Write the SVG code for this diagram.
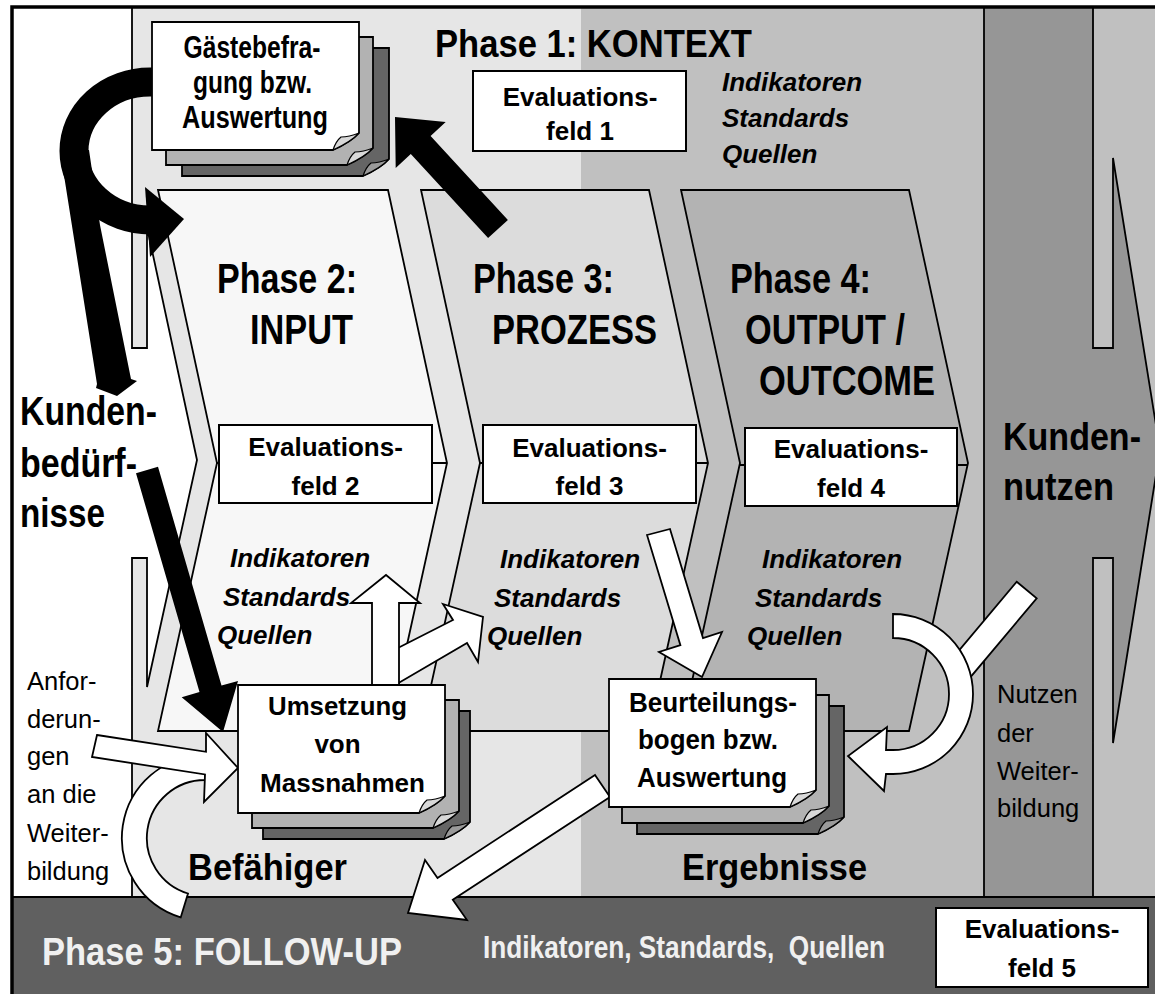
<svg xmlns="http://www.w3.org/2000/svg" width="1155" height="994" viewBox="0 0 1155 994">
<style>
.ln{fill:none;stroke:#000;stroke-width:1.8}
.chev{stroke:#000;stroke-width:1.8}
.box{fill:#fff;stroke:#000;stroke-width:2}
.warr{fill:#fff;stroke:#000;stroke-width:1.8;stroke-linejoin:miter}
.barr{fill:#000}
.big{font-family:"Liberation Sans Narrow","Liberation Sans",Arial,sans-serif;font-weight:bold;fill:#000}
.bt{font-family:"Liberation Sans",Arial,sans-serif;font-weight:bold;font-size:26px;text-anchor:middle;fill:#000}
.it{font-family:"Liberation Sans",Arial,sans-serif;font-weight:bold;font-style:italic;font-size:26px;fill:#000}
.rg{font-family:"Liberation Sans",Arial,sans-serif;font-size:25.5px;fill:#000}
.s1{fill:#fff;stroke:#000;stroke-width:1.8}
.s2{fill:#b2b2b2;stroke:#000;stroke-width:1.8}
.s3{fill:#656565;stroke:#000;stroke-width:1.8}
.flap{fill:#d8d8d8;stroke:#000;stroke-width:1.2}
.flap3{fill:#9a9a9a;stroke:#000;stroke-width:1.2}
</style>
<defs>
<path id="sheet" d="M0,0 H207 V111 Q199,120 181,128 H0 Z"/>
<path id="flap" d="M181,128 Q184,119 189,115 Q197,115 207,111 Q199,120 181,128 Z"/>
</defs>

<g id="background">
<rect x="0" y="0" width="1155" height="994" fill="#fff"/>
<rect x="132" y="7" width="449" height="890" fill="#e6e6e6"/>
<rect x="581" y="7" width="403" height="890" fill="#c0c0c0"/>
<rect x="1093" y="7" width="70" height="890" fill="#c0c0c0"/>
<rect x="984" y="7" width="109" height="890" fill="#969696"/>
</g>

<g id="kundennutzen-arrow">
<polygon points="1090,348 1113,348 1113,158 1160,450 1113,743 1113,558 1090,558" fill="#969696"/>
<path class="ln" d="M1093,7 V348 H1113 V158 L1160,450 L1113,743 V558 H1093 V897"/>
<path class="ln" d="M984,7 V897"/>
</g>

<g id="kundenbeduerfnisse-arrow">
<polygon points="12,348 147,348 147,227 197,460 147,687 147,558 12,558" fill="#fff"/>
<path class="ln" d="M132,7 V348 H147 V227 L197,460 L147,687 V558 H132 V897"/>
</g>

<g id="phase2">
<polygon class="chev" fill="#f7f7f7" points="158,190 388,190 447,463 388,731 158,731 217,463"/>
</g>
<g id="phase3">
<polygon class="chev" fill="#dcdcdc" points="421,190 649,190 708,463 649,731 421,731 480,463"/>
</g>
<g id="phase4">
<polygon class="chev" fill="#b3b3b3" points="681,190 909,190 968,463 909,731 681,731 740,463"/>
</g>

<g id="box-lines">
<path class="ln" d="M217,463 H219 M432,463 H447 M480,463 H483 M696,463 H708 M740,465 H745 M957,465 H968"/>
</g>

<g id="evalfeld1">
<rect class="box" x="473" y="71" width="213" height="80"/>
<text class="bt" x="580" y="106">Evaluations-</text>
<text class="bt" x="580" y="140">feld 1</text>
</g>
<g id="evalfeld2">
<rect class="box" x="219" y="425" width="213" height="78"/>
<text class="bt" x="325.5" y="456">Evaluations-</text>
<text class="bt" x="325.5" y="495">feld 2</text>
</g>
<g id="evalfeld3">
<rect class="box" x="483" y="425" width="213" height="78"/>
<text class="bt" x="589.5" y="457">Evaluations-</text>
<text class="bt" x="589.5" y="495">feld 3</text>
</g>
<g id="evalfeld4">
<rect class="box" x="745" y="428" width="212" height="78"/>
<text class="bt" x="851" y="458">Evaluations-</text>
<text class="bt" x="851" y="497">feld 4</text>
</g>

<g id="phase5">
<rect x="12" y="897" width="1150" height="100" fill="#606060"/>
<path class="ln" d="M12,897 H1155" stroke-width="2.2"/>
<text class="big" x="42" y="965" font-size="39.5" textLength="360" lengthAdjust="spacingAndGlyphs" style="fill:#f0f0f0">Phase 5: FOLLOW-UP</text>
<text class="big" x="483" y="958" font-size="32" textLength="402" lengthAdjust="spacingAndGlyphs" style="fill:#f0f0f0;white-space:pre">Indikatoren, Standards,  Quellen</text>
</g>
<g id="evalfeld5">
<rect class="box" x="936" y="908" width="212" height="79" stroke-width="2.6"/>
<text class="bt" x="1042" y="938">Evaluations-</text>
<text class="bt" x="1042" y="977">feld 5</text>
</g>

<g id="labels">
<text class="big" x="435" y="57" font-size="39.5" textLength="317" lengthAdjust="spacingAndGlyphs">Phase 1: KONTEXT</text>
<text class="big" x="217" y="293" font-size="42" textLength="140" lengthAdjust="spacingAndGlyphs">Phase 2:</text>
<text class="big" x="250" y="344" font-size="42" textLength="103" lengthAdjust="spacingAndGlyphs">INPUT</text>
<text class="big" x="473" y="293" font-size="42" textLength="141" lengthAdjust="spacingAndGlyphs">Phase 3:</text>
<text class="big" x="492" y="344" font-size="42" textLength="165" lengthAdjust="spacingAndGlyphs">PROZESS</text>
<text class="big" x="730" y="293" font-size="42" textLength="141" lengthAdjust="spacingAndGlyphs">Phase 4:</text>
<text class="big" x="745" y="344" font-size="42" textLength="160" lengthAdjust="spacingAndGlyphs">OUTPUT /</text>
<text class="big" x="759" y="395" font-size="42" textLength="176" lengthAdjust="spacingAndGlyphs">OUTCOME</text>

<text class="big" x="20" y="425" font-size="40" textLength="137" lengthAdjust="spacingAndGlyphs">Kunden-</text>
<text class="big" x="20" y="477" font-size="40" textLength="117" lengthAdjust="spacingAndGlyphs">bedürf-</text>
<text class="big" x="20" y="527" font-size="40" textLength="85" lengthAdjust="spacingAndGlyphs">nisse</text>

<text class="big" x="1003" y="450" font-size="38.5" textLength="138" lengthAdjust="spacingAndGlyphs">Kunden-</text>
<text class="big" x="1003" y="500" font-size="38.5" textLength="111" lengthAdjust="spacingAndGlyphs">nutzen</text>

<text class="big" x="188" y="880" font-size="36" textLength="159" lengthAdjust="spacingAndGlyphs">Befähiger</text>
<text class="big" x="682" y="880" font-size="37" textLength="185" lengthAdjust="spacingAndGlyphs">Ergebnisse</text>

<text class="it" x="722" y="91">Indikatoren</text>
<text class="it" x="722" y="127">Standards</text>
<text class="it" x="722" y="163">Quellen</text>

<text class="it" x="230" y="567">Indikatoren</text>
<text class="it" x="223" y="606">Standards</text>
<text class="it" x="217" y="644">Quellen</text>

<text class="it" x="500" y="568">Indikatoren</text>
<text class="it" x="494" y="607">Standards</text>
<text class="it" x="487" y="645">Quellen</text>

<text class="it" x="762" y="568">Indikatoren</text>
<text class="it" x="755" y="607">Standards</text>
<text class="it" x="747" y="645">Quellen</text>

<text class="rg" x="27" y="690">Anfor-</text>
<text class="rg" x="27" y="728">derun-</text>
<text class="rg" x="27" y="765">gen</text>
<text class="rg" x="27" y="803">an die</text>
<text class="rg" x="27" y="842">Weiter-</text>
<text class="rg" x="27" y="880">bildung</text>

<text class="rg" x="997" y="703">Nutzen</text>
<text class="rg" x="997" y="742">der</text>
<text class="rg" x="997" y="780">Weiter-</text>
<text class="rg" x="997" y="817">bildung</text>
</g>

<g id="connectors">
<path d="M162,82 H150 A76,69 0 0 0 74,151 A76,69 0 0 0 150,220" fill="none" stroke="#000" stroke-width="29"/>
<polygon class="barr" points="145,187 184,219 150,257"/>
<polygon class="barr" points="60,150 89,150 100,225 131,379 137,381 117,396 96,388 97,384"/>
<polygon class="barr" points="136,473.2 158,466.8 221.5,685.6 238,681 223,732 181.7,697.2 199.5,692"/>
<polygon class="barr" points="488.1,238.1 507.9,219.9 430.6,135.9 445.7,122 395,117 395.7,168 410.8,154.1"/>
<polygon class="warr" points="1016.7,581.7 1036.7,598.3 969.2,678.7 949.2,662.1"/>
<path class="warr" d="M893,614 A80,80 0 0 1 973,694 A80,80 0 0 1 893,774 L886,774 L884,791 L848,756 L887,727 L886,750 L893,750 A56,56 0 0 0 949,694 A56,56 0 0 0 893,638 Z"/>
<path class="warr" d="M180.7,917.4 A83,83 0 0 1 205,755 L205,780 A58,58 0 0 0 188,893.5 Z"/>
<polygon class="warr" points="97,735 206,751.8 206,733 238,768 204,802 205,774.4 92,757"/>
<polygon class="warr" points="390,652 453,620 443,604 483,617 478,662 467,643 390,688"/>
<polygon class="warr" points="372,700 372,603 351,603 386,575 420,603 399,603 399,700"/>
<polygon class="warr" points="647,535 670,529 703,638 722,632 702,677 659,652 680.4,645.2"/>
<polygon class="warr" points="595,775 437.5,877.9 425,860 408,913 467,920 452.8,899.7 610,797"/>
</g>

<g id="doc-gaestebefragung">
<use href="#sheet" x="182" y="48" class="s3"/><use href="#flap" x="182" y="48" class="flap3"/>
<use href="#sheet" x="166" y="37" class="s2"/><use href="#flap" x="166" y="37" class="flap"/>
<use href="#sheet" x="152" y="22" class="s1"/><use href="#flap" x="152" y="22" class="flap"/>
<text class="bt" x="252" y="58" textLength="137" lengthAdjust="spacingAndGlyphs" style="font-size:31px">Gästebefra-</text>
<text class="bt" x="252.5" y="93" textLength="119" lengthAdjust="spacingAndGlyphs" style="font-size:31px">gung bzw.</text>
<text class="bt" x="255" y="128" textLength="146" lengthAdjust="spacingAndGlyphs" style="font-size:31px">Auswertung</text>
</g>

<g id="doc-umsetzung">
<use href="#sheet" x="263" y="711" class="s3"/><use href="#flap" x="263" y="711" class="flap3"/>
<use href="#sheet" x="252" y="700" class="s2"/><use href="#flap" x="252" y="700" class="flap"/>
<use href="#sheet" x="238" y="685" class="s1"/><use href="#flap" x="238" y="685" class="flap"/>
<text class="bt" x="337.5" y="715" textLength="139" lengthAdjust="spacingAndGlyphs">Umsetzung</text>
<text class="bt" x="337.5" y="753">von</text>
<text class="bt" x="342.5" y="792" textLength="165" lengthAdjust="spacingAndGlyphs">Massnahmen</text>
</g>

<g id="doc-beurteilung">
<use href="#sheet" x="637" y="706" class="s3"/><use href="#flap" x="637" y="706" class="flap3"/>
<use href="#sheet" x="622" y="695" class="s2"/><use href="#flap" x="622" y="695" class="flap"/>
<use href="#sheet" x="609" y="679" class="s1"/><use href="#flap" x="609" y="679" class="flap"/>
<text class="bt" x="713" y="712" textLength="168" lengthAdjust="spacingAndGlyphs" style="font-size:28px">Beurteilungs-</text>
<text class="bt" x="708" y="749" textLength="140" lengthAdjust="spacingAndGlyphs" style="font-size:28px">bogen bzw.</text>
<text class="bt" x="712" y="787" textLength="150" lengthAdjust="spacingAndGlyphs" style="font-size:28px">Auswertung</text>
</g>

<g id="frame">
<rect x="12" y="7" width="1160" height="1000" fill="none" stroke="#000" stroke-width="3.5"/>
</g>
</svg>
